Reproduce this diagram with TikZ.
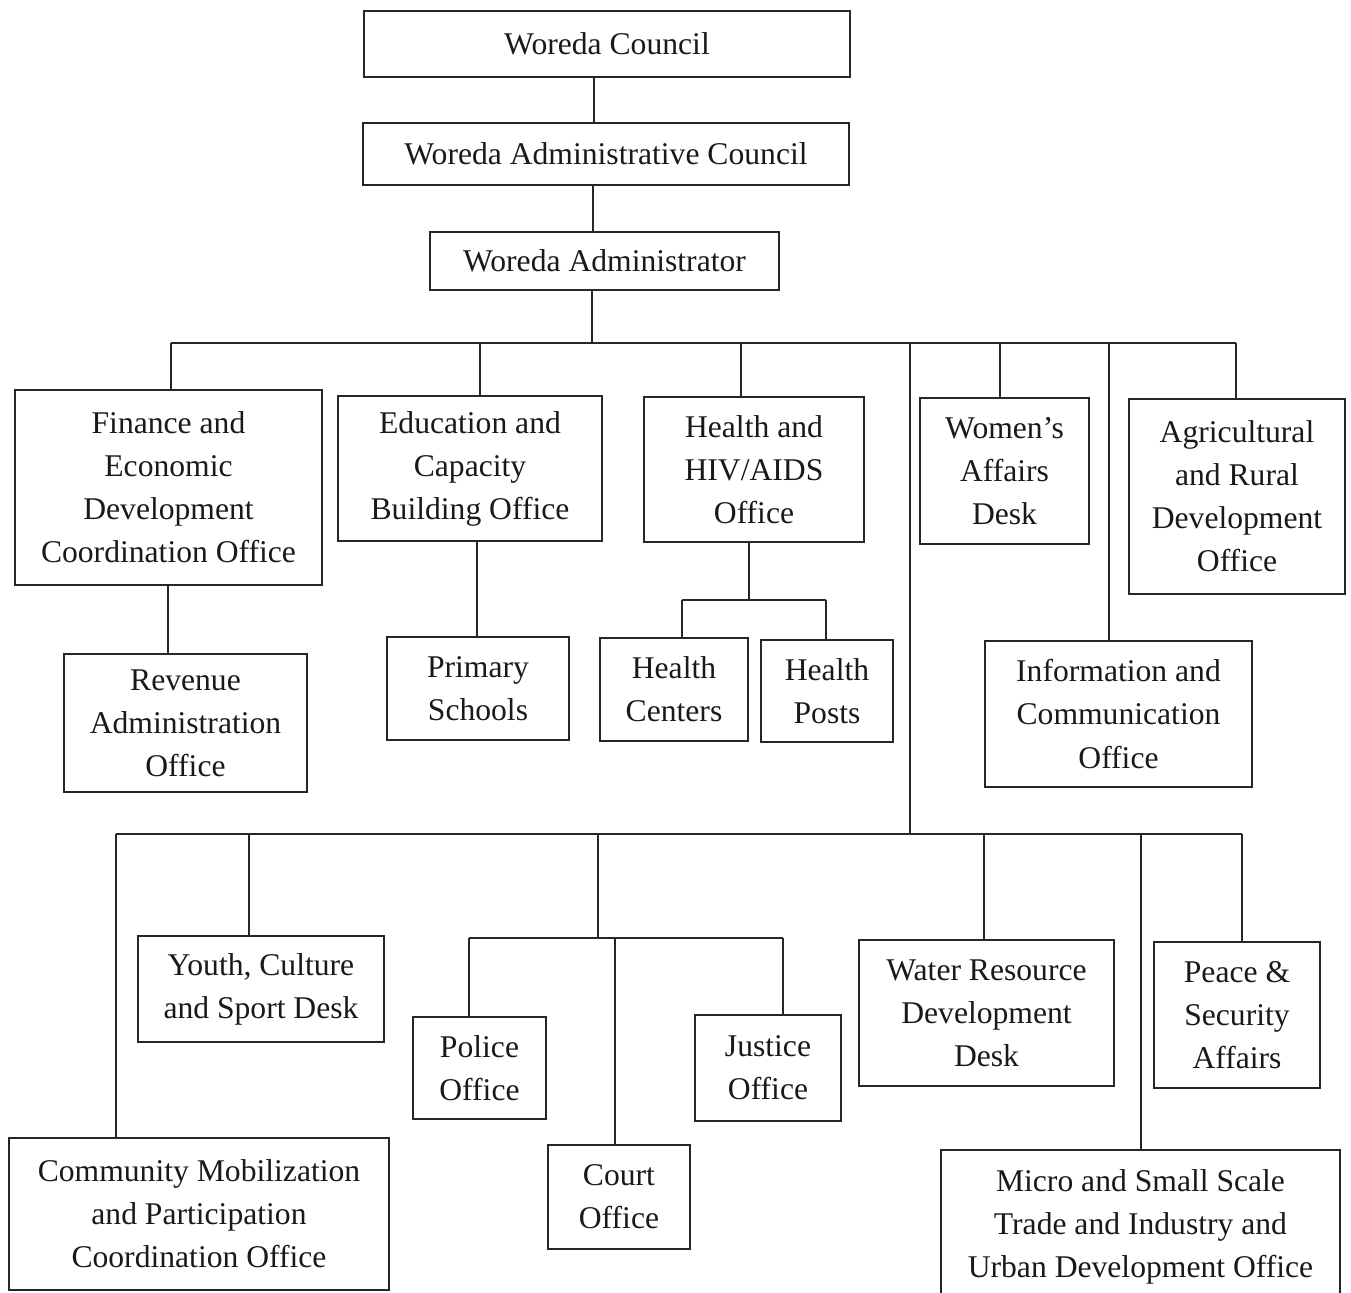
\documentclass[tikz,border=0pt]{standalone}
\usepackage{fontspec}
\setmainfont{Liberation Serif}
\newcommand\orgbox[6]{\node[orgnode, minimum width={(#4-#2)*0.02cm}, minimum height={(#5-#3)*0.02cm}] (#1) at ({(#2+#4)/2},{(#3+#5)/2}) {#6};}
\begin{document}
\begin{tikzpicture}[x=0.02cm,y=-0.02cm,
  orgnode/.style={draw=black!85, line width=1pt, align=center, inner sep=0pt, text=black!90,
    font=\fontsize{18}{24.5}\selectfont},
  link/.style={draw=black!85, line width=0.9pt}]
\useasboundingbox (0,0) rectangle (1351,1293);
\clip (0,0) rectangle (1351,1293);
% boxes
\orgbox{council}{364}{11}{850}{77}{Woreda Council}
\orgbox{admc}{363}{123}{849}{185}{Woreda Administrative Council}
\orgbox{admr}{430}{232}{779}{290}{Woreda Administrator}
\orgbox{fin}{15}{390}{322}{585}{Finance and\\Economic\\Development\\Coordination Office}
\orgbox{rev}{64}{654}{307}{792}{Revenue\\Administration\\Office}
\orgbox{edu}{338}{396}{602}{541}{Education and\\Capacity\\Building Office}
\orgbox{prim}{387}{637}{569}{740}{Primary\\Schools}
\orgbox{health}{644}{397}{864}{542}{Health and\\HIV/AIDS\\Office}
\orgbox{hcent}{600}{638}{748}{741}{Health\\Centers}
\orgbox{hpost}{761}{640}{893}{742}{Health\\Posts}
\orgbox{women}{920}{398}{1089}{544}{Women’s\\Affairs\\Desk}
\orgbox{agri}{1129}{399}{1345}{594}{Agricultural\\and Rural\\Development\\Office}
\orgbox{info}{985}{641}{1252}{787}{Information and\\Communication\\Office}
\orgbox{youth}{138}{936}{384}{1042}{Youth, Culture\\and Sport Desk}
\orgbox{police}{413}{1017}{546}{1119}{Police\\Office}
\orgbox{court}{548}{1145}{690}{1249}{Court\\Office}
\orgbox{justice}{695}{1015}{841}{1121}{Justice\\Office}
\orgbox{water}{859}{940}{1114}{1086}{Water Resource\\Development\\Desk}
\orgbox{peace}{1154}{942}{1320}{1088}{Peace \&\\Security\\Affairs}
\orgbox{comm}{9}{1138}{389}{1290}{Community Mobilization\\and Participation\\Coordination Office}
\orgbox{micro}{941}{1150}{1340}{1304}{Micro and Small Scale\\Trade and Industry and\\Urban Development Office}
% top chain
\coordinate (xa) at (594,0);
\coordinate (xb) at (593,0);
\draw[link] (council.south -| xa) -- (admc.north -| xa);
\draw[link] (admc.south -| xb) -- (admr.north -| xb);
\coordinate (bus1) at (592,343);
\draw[link] (admr.south -| bus1) -- (bus1);
% upper bus
\coordinate (d1) at (171,343);
\coordinate (d2) at (480,343);
\coordinate (d3) at (741,343);
\coordinate (d4) at (910,343);
\coordinate (d5) at (1000,343);
\coordinate (d6) at (1109,343);
\coordinate (d7) at (1236,343);
\draw[link] (d1) -- (d7);
\draw[link] (d1) -- (fin.north -| d1);
\draw[link] (d2) -- (edu.north -| d2);
\draw[link] (d3) -- (health.north -| d3);
\draw[link] (d5) -- (women.north -| d5);
\draw[link] (d6) -- (info.north -| d6);
\draw[link] (d7) -- (agri.north -| d7);
% sub links upper
\coordinate (fx) at (168,0);
\draw[link] (fin.south -| fx) -- (rev.north -| fx);
\coordinate (ex) at (477,0);
\draw[link] (edu.south -| ex) -- (prim.north -| ex);
\coordinate (hb) at (749,600);
\coordinate (hL) at (682,600);
\coordinate (hR) at (826,600);
\draw[link] (health.south -| hb) -- (hb);
\draw[link] (hL) -- (hR);
\draw[link] (hL) -- (hcent.north -| hL);
\draw[link] (hR) -- (hpost.north -| hR);
% trunk and lower bus
\coordinate (bus2) at (910,834);
\draw[link] (d4) -- (bus2);
\coordinate (l1) at (116,834);
\coordinate (l2) at (249,834);
\coordinate (l3) at (598,834);
\coordinate (l4) at (984,834);
\coordinate (l5) at (1141,834);
\coordinate (l6) at (1242,834);
\draw[link] (l1) -- (l6);
\draw[link] (l1) -- (comm.north -| l1);
\draw[link] (l2) -- (youth.north -| l2);
\draw[link] (l4) -- (water.north -| l4);
\draw[link] (l5) -- (micro.north -| l5);
\draw[link] (l6) -- (peace.north -| l6);
% justice sub-bus
\coordinate (s0) at (598,938);
\coordinate (sL) at (469,938);
\coordinate (sM) at (615,938);
\coordinate (sR) at (783,938);
\draw[link] (l3) -- (s0);
\draw[link] (sL) -- (sR);
\draw[link] (sL) -- (police.north -| sL);
\draw[link] (sM) -- (court.north -| sM);
\draw[link] (sR) -- (justice.north -| sR);
\end{tikzpicture}
\end{document}
